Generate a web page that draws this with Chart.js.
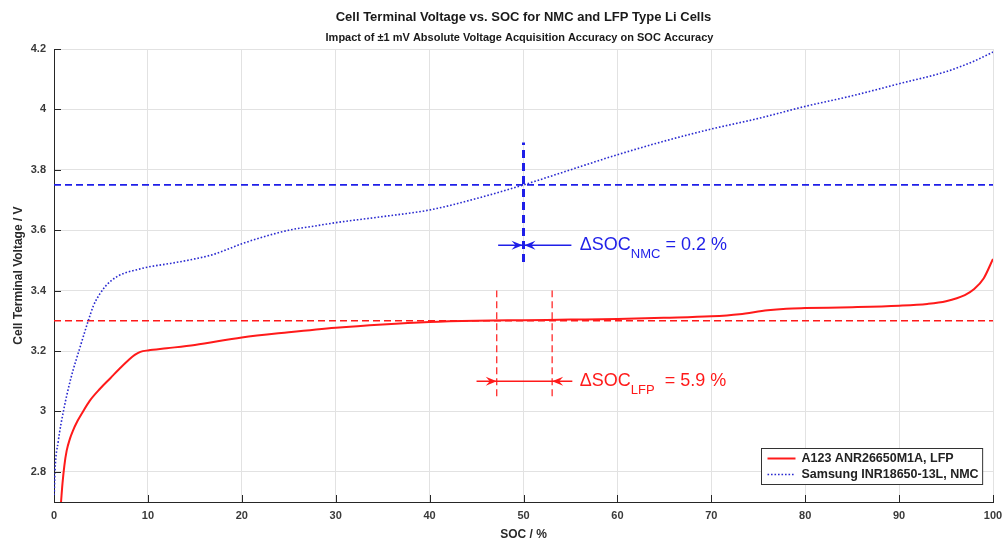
<!DOCTYPE html>
<html><head><meta charset="utf-8">
<script src="https://cdn.jsdelivr.net/npm/chart.js@4/dist/chart.umd.min.js"></script>
<style>html,body{margin:0;padding:0;background:#fff}#wrap{width:1003px;height:542px}</style>
</head><body><div id="wrap"><canvas id="c" width="1003" height="542"></canvas></div>
<script>
const titleText = 'Cell Terminal Voltage vs. SOC for NMC and LFP Type Li Cells';
const subtitleText = 'Impact of \u00b11 mV Absolute Voltage Acquisition Accuracy on SOC Accuracy';
const xTitle = 'SOC / %';
const yTitle = 'Cell Terminal Voltage / V';
const xTicks = [0, 10, 20, 30, 40, 50, 60, 70, 80, 90, 100];
const yTicks = [2.8, 3, 3.2, 3.4, 3.6, 3.8, 4, 4.2];
const lfpLabel = 'A123 ANR26650M1A, LFP';
const nmcLabel = 'Samsung INR18650-13L, NMC';

const lfpSoc  = [0.75, 0.9, 1.1, 1.35, 1.7, 2.0, 2.5, 3.0, 3.8, 4.9, 6.0, 7.0, 8.0, 8.6, 9.2, 10, 12, 15, 20, 25, 30, 35, 40, 45, 50, 55, 60, 65, 70, 73, 76, 78, 80, 85, 90, 93, 95, 97, 98, 99, 100];
const lfpVolt = [2.70, 2.76, 2.82, 2.87, 2.91, 2.935, 2.968, 2.995, 3.035, 3.075, 3.11, 3.142, 3.172, 3.187, 3.197, 3.202, 3.209, 3.22, 3.245, 3.262, 3.277, 3.288, 3.296, 3.300, 3.302, 3.304, 3.306, 3.31, 3.315, 3.322, 3.335, 3.34, 3.342, 3.345, 3.35, 3.356, 3.365, 3.385, 3.405, 3.44, 3.505];

const nmcSoc  = [0, 0.1, 0.45, 1.0, 1.8, 2.75, 3.65, 4.2, 4.9, 5.5, 6.1, 6.8, 7.7, 8.7, 10, 12.4, 15, 17, 20, 22, 25, 28, 30, 35, 40, 45, 50, 55, 60, 65, 70, 75, 80, 85, 90, 95, 98, 100];
const nmcVolt = [2.70, 2.80, 2.90, 3.00, 3.11, 3.21, 3.30, 3.35, 3.39, 3.415, 3.433, 3.448, 3.46, 3.468, 3.478, 3.49, 3.505, 3.52, 3.555, 3.575, 3.60, 3.615, 3.625, 3.645, 3.667, 3.705, 3.75, 3.80, 3.85, 3.895, 3.935, 3.97, 4.01, 4.045, 4.085, 4.125, 4.16, 4.19];

const nmcRefVolt = 3.75;
const lfpRefVolt = 3.30;
const nmcCrossSoc = 50;
const nmcCrossVolt = [3.495, 3.89];
const lfpCrossSoc = [47.15, 53.05];
const lfpCrossVolt = [3.05, 3.40];
const nmcArrowVolt = 3.55;
const nmcArrowSoc = [47.3, 49.9, 50.1, 55.1];   // tail, tip, tip, tail
const lfpArrowVolt = 3.10;
const lfpArrowSoc = [45.0, 47.15, 53.05, 55.2]; // tail, tip, tip, tail
const nmcText = ['\u0394SOC', 'NMC', ' = 0.2 %'];
const lfpText = ['\u0394SOC', 'LFP', '  = 5.9 %'];
const textSoc = 56.0;

const FONT = "'Liberation Sans', Arial, Helvetica, sans-serif";
const RED = '#ff1a1a';
const BLUE = '#1f1fe8';
const NMC_DOT = '#2a2ad0';

const pts = (xs, ys) => xs.map((s, i) => ({x: s, y: ys[i]}));
const hline = v => [{x: 0, y: v}, {x: 100, y: v}];
const vline = (s, vs) => [{x: s, y: vs[0]}, {x: s, y: vs[1]}];
const base = {pointRadius: 0, fill: false, tension: 0};

const datasets = [
  {...base, label: lfpLabel, data: pts(lfpSoc, lfpVolt), borderColor: RED, borderWidth: 2, cubicInterpolationMode: 'monotone'},
  {...base, label: nmcLabel, data: pts(nmcSoc, nmcVolt), borderColor: NMC_DOT, borderWidth: 1.6, borderDash: [1.6, 1.9], cubicInterpolationMode: 'monotone'},
  {...base, label: 'nmcRef', data: hline(nmcRefVolt), borderColor: BLUE, borderWidth: 1.6, borderDash: [7, 4]},
  {...base, label: 'lfpRef', data: hline(lfpRefVolt), borderColor: RED, borderWidth: 1.6, borderDash: [7, 4]},
  {...base, label: 'nmcCross', data: vline(nmcCrossSoc, nmcCrossVolt), borderColor: BLUE, borderWidth: 3, borderDash: [8, 5]},
  {...base, label: 'lfpCross1', data: vline(lfpCrossSoc[0], lfpCrossVolt), borderColor: RED, borderWidth: 1.2, borderDash: [7, 4]},
  {...base, label: 'lfpCross2', data: vline(lfpCrossSoc[1], lfpCrossVolt), borderColor: RED, borderWidth: 1.2, borderDash: [7, 4]},
  {...base, label: 'nmcArrow', data: [{x: nmcArrowSoc[0], y: nmcArrowVolt}, {x: nmcArrowSoc[3], y: nmcArrowVolt}], borderColor: BLUE, borderWidth: 1.5},
  {...base, label: 'lfpArrow', data: [{x: lfpArrowSoc[0], y: lfpArrowVolt}, {x: lfpArrowSoc[3], y: lfpArrowVolt}], borderColor: RED, borderWidth: 1.5}
];

const annot = {
  id: 'annot',
  afterDatasetsDraw(chart) {
    const {ctx, scales: {x, y}} = chart;
    ctx.save();
    const head = (tip, v, dir, color) => {
      const px = x.getPixelForValue(tip), py = y.getPixelForValue(v);
      ctx.fillStyle = color;
      ctx.beginPath();
      ctx.moveTo(px, py);
      ctx.lineTo(px - dir * 11, py - 4.5);
      ctx.lineTo(px - dir * 7, py);
      ctx.lineTo(px - dir * 11, py + 4.5);
      ctx.closePath();
      ctx.fill();
    };
    head(nmcArrowSoc[1], nmcArrowVolt, 1, BLUE);
    head(nmcArrowSoc[2], nmcArrowVolt, -1, BLUE);
    head(lfpArrowSoc[1], lfpArrowVolt, 1, RED);
    head(lfpArrowSoc[2], lfpArrowVolt, -1, RED);

    const label = (parts, v, color) => {
      let px = x.getPixelForValue(textSoc);
      const py = y.getPixelForValue(v);
      ctx.fillStyle = color;
      ctx.textBaseline = 'middle';
      ctx.textAlign = 'left';
      ctx.font = '18px ' + FONT;
      ctx.fillText(parts[0], px, py);
      px += ctx.measureText(parts[0]).width;
      ctx.font = '13px ' + FONT;
      ctx.fillText(parts[1], px, py + 9);
      px += ctx.measureText(parts[1]).width;
      ctx.font = '18px ' + FONT;
      ctx.fillText(parts[2], px, py);
    };
    label(nmcText, nmcArrowVolt, BLUE);
    label(lfpText, lfpArrowVolt, RED);
    ctx.restore();
  },
  afterDraw(chart) {
    const {ctx, chartArea: a, scales: {x, y}} = chart;
    ctx.save();
    // inward tick marks
    ctx.strokeStyle = '#262626';
    ctx.lineWidth = 1;
    ctx.beginPath();
    xTicks.forEach(v => { const px = Math.round(x.getPixelForValue(v)) + 0.5; ctx.moveTo(px, a.bottom); ctx.lineTo(px, a.bottom - 7); });
    yTicks.forEach(v => { const py = Math.round(y.getPixelForValue(v)) + 0.5; ctx.moveTo(a.left, py); ctx.lineTo(a.left + 7, py); });
    ctx.stroke();

    // titles
    const cx = (a.left + a.right) / 2;
    ctx.fillStyle = '#1a1a1a';
    ctx.textAlign = 'center';
    ctx.textBaseline = 'middle';
    ctx.font = 'bold 13px ' + FONT;
    ctx.fillText(titleText, cx, 17);
    ctx.font = 'bold 11px ' + FONT;
    ctx.fillText(subtitleText, cx - 4, 38);

    // legend
    ctx.font = 'bold 12.5px ' + FONT;
    const labels = [datasets[0].label, datasets[1].label];
    const tw = Math.max(...labels.map(t => ctx.measureText(t).width));
    const bw = 6 + 28 + 6 + tw + 4, bh = 36;
    const bx = Math.round(a.right - 11 - bw) + 0.5, by = Math.round(a.bottom - 18 - bh) + 0.5;
    ctx.fillStyle = '#fff';
    ctx.fillRect(bx, by, bw, bh);
    ctx.strokeStyle = '#333';
    ctx.lineWidth = 1;
    ctx.strokeRect(bx, by, bw, bh);
    [[datasets[0], by + 10], [datasets[1], by + 26]].forEach(([d, ry]) => {
      ctx.strokeStyle = d.borderColor;
      ctx.lineWidth = d.borderWidth;
      ctx.setLineDash(d.borderDash || []);
      ctx.beginPath();
      ctx.moveTo(bx + 6, ry);
      ctx.lineTo(bx + 34, ry);
      ctx.stroke();
      ctx.setLineDash([]);
      ctx.fillStyle = '#222';
      ctx.textAlign = 'left';
      ctx.fillText(d.label, bx + 40, ry + 0.5);
    });
    ctx.restore();
  }
};

const tickFont = {family: FONT, size: 11, weight: 'bold'};
const titleFont = {family: FONT, size: 12, weight: 'bold'};
const fmt = v => String(+(+v).toFixed(2));

new Chart(document.getElementById('c'), {
  type: 'line',
  data: {datasets},
  options: {
    responsive: false,
    animation: false,
    parsing: true,
    layout: {padding: {top: 49, right: 10, bottom: 0, left: 0}},
    plugins: {legend: {display: false}, tooltip: {enabled: false}, title: {display: false}},
    scales: {
      x: {
        type: 'linear', min: 0, max: 100,
        afterBuildTicks: s => { s.ticks = xTicks.map(v => ({value: v})); },
        afterFit: s => { s.height = 40; s.paddingLeft = 0; s.paddingRight = 0; },
        grid: {color: '#e2e2e2', drawTicks: false},
        border: {color: '#262626', width: 1},
        ticks: {font: tickFont, color: '#3a3a3a', padding: 7, maxRotation: 0, autoSkip: false, callback: fmt},
        title: {display: true, text: xTitle, font: titleFont, color: '#2a2a2a', padding: {top: 0, bottom: 0}}
      },
      y: {
        type: 'linear', min: 2.7, max: 4.2,
        afterBuildTicks: s => { s.ticks = yTicks.map(v => ({value: v})); },
        afterFit: s => { s.width = 54; s.paddingTop = 0; s.paddingBottom = 0; },
        grid: {color: '#e2e2e2', drawTicks: false},
        border: {color: '#262626', width: 1},
        ticks: {font: tickFont, color: '#3a3a3a', padding: 8, autoSkip: false, callback: fmt},
        title: {display: true, text: yTitle, font: titleFont, color: '#2a2a2a', padding: {top: 11, bottom: 0}}
      }
    }
  },
  plugins: [annot]
});
</script></body></html>
